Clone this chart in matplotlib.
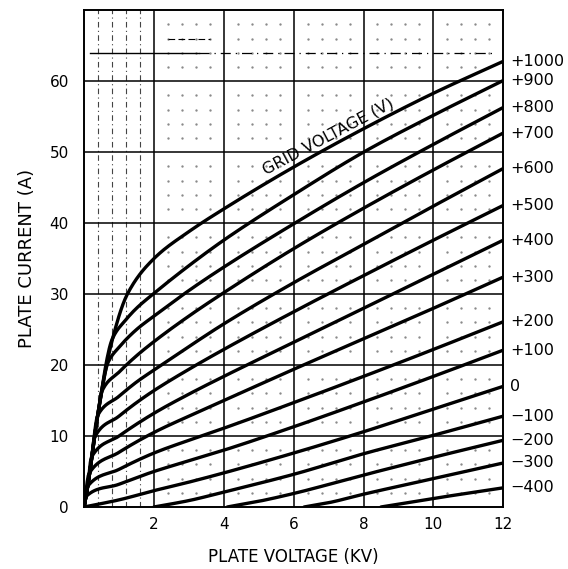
import numpy as np
import matplotlib
matplotlib.use("Agg")
import matplotlib.pyplot as plt

# grid voltage label of each curve, top to bottom
grid_labels = ["+1000", "+900", "+800", "+700", "+600", "+500", "+400",
               "+300", "+200", "+100", "0", "\u2212100", "\u2212200",
               "\u2212300", "\u2212400"]

# plate voltage (kV) points
curve_kv = [
    [0, 0.1, 0.2, 0.38, 0.81, 1.24, 2, 3, 4, 6, 8, 10, 12],
    [0, 0.1, 0.2, 0.38, 0.81, 1.2, 1.5, 2, 3, 4, 6, 8, 10, 12],
    [0, 0.1, 0.2, 0.38, 0.69, 1.0, 1.5, 2, 3, 4, 6, 8, 10, 12],
    [0, 0.1, 0.2, 0.38, 0.52, 1.0, 1.5, 2, 3, 4, 6, 8, 10, 12],
    [0, 0.1, 0.2, 0.39, 1.0, 1.5, 2, 3, 4, 6, 8, 10, 12],
    [0, 0.1, 0.2, 0.30, 1.0, 1.5, 2, 3, 4, 6, 8, 10, 12],
    [0, 0.1, 0.21, 1.0, 2, 3, 4, 6, 8, 10, 12],
    [0, 0.14, 1.0, 2, 3, 4, 6, 8, 10, 12],
    [0, 0.085, 1.0, 2, 3, 4, 6, 8, 10, 12],
    [0, 0.04, 1.0, 2, 3, 4, 6, 8, 10, 12],
    [0, 1, 2, 3, 4, 6, 8, 10, 12],
    [2.0, 3, 4, 6, 8, 10, 12],
    [4.1, 5, 6, 8, 10, 12],
    [6.3, 7, 8, 10, 12],
    [8.5, 9, 10, 12],
]

# plate current (A) at those points
curve_amps = [
    [0, 2.8, 6.2, 12.6, 23.6, 30.0, 35.0, 38.8, 42.0, 47.9, 53.3, 58.3, 62.8],
    [0, 2.8, 6.2, 12.6, 23.7, 26.4, 28.0, 30.1, 34.0, 37.6, 44.0, 50.0, 55.2, 60.1],
    [0, 2.8, 6.2, 12.6, 20.4, 22.5, 25.0, 26.9, 30.5, 33.8, 39.9, 45.7, 51.1, 56.3],
    [0, 2.8, 6.2, 12.6, 16.4, 19.0, 21.3, 23.3, 26.9, 30.2, 36.4, 42.1, 47.5, 52.7],
    [0, 2.8, 6.2, 12.9, 15.6, 17.6, 19.3, 22.6, 25.8, 31.6, 37.0, 42.4, 47.7],
    [0, 2.8, 6.2, 9.8, 12.8, 14.7, 16.4, 19.4, 22.2, 27.5, 32.6, 37.6, 42.5],
    [0, 2.8, 7.0, 10.0, 13.2, 15.9, 18.4, 23.2, 28.0, 32.8, 37.6],
    [0, 4.7, 7.7, 10.5, 12.8, 15.0, 19.4, 23.7, 28.0, 32.4],
    [0, 2.8, 5.3, 7.6, 9.4, 11.1, 14.7, 18.4, 22.2, 26.1],
    [0, 1.4, 3.2, 5.0, 6.5, 8.0, 11.3, 14.8, 18.4, 22.1],
    [0, 1.0, 2.3, 3.5, 4.8, 7.6, 10.6, 13.8, 17.0],
    [0, 0.9, 2.1, 4.6, 7.5, 10.1, 12.8],
    [0, 0.8, 1.9, 4.5, 7.0, 9.4],
    [0, 0.6, 1.8, 4.0, 6.2],
    [0, 0.4, 1.2, 2.7],
]

x_ticks = [2, 4, 6, 8, 10, 12]
y_ticks = [0, 10, 20, 30, 40, 50, 60]


def pchip(x, y, xs):
    # shape-preserving cubic through the read points
    x = np.asarray(x, float)
    y = np.asarray(y, float)
    h = np.diff(x)
    d = np.diff(y) / h
    n = len(x)
    m = np.zeros(n)
    for k in range(1, n - 1):
        if d[k - 1] * d[k] > 0:
            w1 = 2 * h[k] + h[k - 1]
            w2 = h[k] + 2 * h[k - 1]
            m[k] = (w1 + w2) / (w1 / d[k - 1] + w2 / d[k])
    m[0] = d[0]
    m[-1] = d[-1]
    idx = np.clip(np.searchsorted(x, xs) - 1, 0, n - 2)
    t = (xs - x[idx]) / h[idx]
    h00 = 2 * t**3 - 3 * t**2 + 1
    h10 = t**3 - 2 * t**2 + t
    h01 = -2 * t**3 + 3 * t**2
    h11 = t**3 - t**2
    return (h00 * y[idx] + h10 * h[idx] * m[idx]
            + h01 * y[idx + 1] + h11 * h[idx] * m[idx + 1])


fig = plt.figure(figsize=(5.68, 5.69), dpi=100)
ax = fig.add_axes([0.148, 0.109, 0.738, 0.873])
ax.set_xlim(0, 12)
ax.set_ylim(0, 70)

# faint dotted sub-grid
dot_x, dot_y = np.meshgrid(np.arange(2.4, 12, 0.4), np.arange(2, 70, 2))
keep = (np.abs(dot_y % 10) > 0.5) & (np.abs((dot_x + 1e-6) % 2) > 0.1)
ax.plot(dot_x[keep], dot_y[keep], ls="none", marker=".", ms=1.4,
        color="#888888", zorder=1)
for xv in [0.4, 0.8, 1.2, 1.6]:
    ax.axvline(xv, color="#444444", lw=0.8, dashes=(5, 3, 1, 3), zorder=1)

# main grid
for xv in x_ticks[:-1]:
    ax.axvline(xv, color="black", lw=1.1, zorder=2)
for yv in y_ticks[1:]:
    ax.axhline(yv, color="black", lw=1.1, zorder=2)
ax.plot([0.17, 3.3], [64, 64], color="black", lw=1.0, zorder=2)
ax.plot([3.3, 11.7], [64, 64], color="black", lw=0.9, dashes=(8, 4, 1, 4), zorder=2)
ax.plot([2.4, 3.6], [66, 66], color="black", lw=0.8, dashes=(6, 3), zorder=2)

# plate characteristics
for kv, amps, lab in zip(curve_kv, curve_amps, grid_labels):
    xs = np.linspace(kv[0], kv[-1], 400)
    ax.plot(xs, pchip(kv, amps, xs), color="black", lw=2.4,
            solid_capstyle="round", zorder=3)
    ax.text(12.2, amps[-1], lab, fontsize=11.5, va="center", ha="left")

ax.text(7.0, 52.2, "GRID VOLTAGE (V)", fontsize=11.5, rotation=28,
        rotation_mode="anchor", ha="center", va="center")

for side in ["left", "right", "top", "bottom"]:
    ax.spines[side].set_linewidth(1.4)
ax.set_xticks(x_ticks)
ax.set_yticks(y_ticks)
ax.tick_params(length=0, labelsize=11)
ax.tick_params(axis="x", pad=7)
ax.tick_params(axis="y", pad=11)
ax.set_xlabel("PLATE VOLTAGE (KV)", fontsize=12, labelpad=12)
ax.set_ylabel("PLATE CURRENT (A)", fontsize=13, labelpad=10)

fig.savefig("out.png", dpi=100)
